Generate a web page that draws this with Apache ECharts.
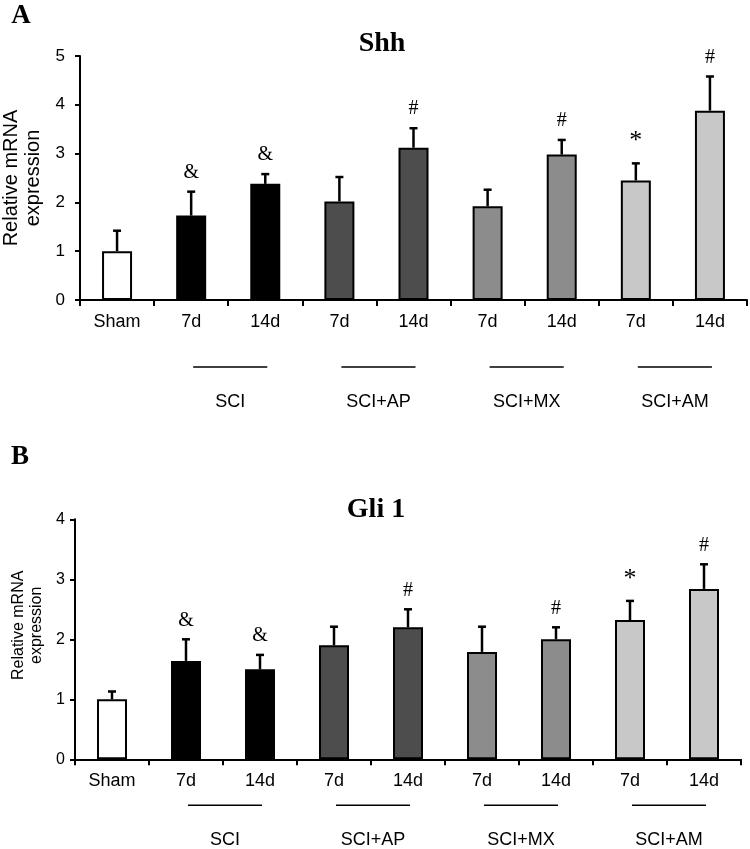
<!DOCTYPE html>
<html>
<head>
<meta charset="utf-8">
<script src="https://cdn.jsdelivr.net/npm/echarts@6/dist/echarts.min.js"></script>
<style>
  html, body { margin: 0; padding: 0; background: #fff; }
  #main { width: 750px; height: 849px; }
</style>
</head>
<body>
<div id="main"></div>
<script>
var categories = ['Sham', '7d', '14d', '7d', '14d', '7d', '14d', '7d', '14d'];
var barColors = ['#ffffff', '#000000', '#000000', '#4d4d4d', '#4d4d4d', '#8c8c8c', '#8c8c8c', '#c8c8c8', '#c8c8c8'];
var groupNames = ['SCI', 'SCI+AP', 'SCI+MX', 'SCI+AM'];
var groupStart = [1, 3, 5, 7];

// panel A - Shh
var shhMean = [1.0, 1.73, 2.38, 2.02, 3.12, 1.92, 2.98, 2.45, 3.88];
var shhErr = [0.42, 0.49, 0.20, 0.50, 0.40, 0.34, 0.30, 0.35, 0.70];
var shhMarks = ['', '&', '&', '', '#', '', '#', '*', '#'];

// panel B - Gli 1
var gliMean = [1.0, 1.64, 1.50, 1.90, 2.20, 1.79, 2.00, 2.32, 2.84];
var gliErr = [0.13, 0.36, 0.24, 0.31, 0.30, 0.42, 0.20, 0.32, 0.41];
var gliMarks = ['', '&', '&', '', '#', '', '#', '*', '#'];

var SANS = '"Liberation Sans", Arial, sans-serif';
var SERIF = '"Liberation Serif", "Times New Roman", serif';

var chart = echarts.init(document.getElementById('main'));

function xAxisFor(idx) {
  return {
    type: 'category', gridIndex: idx, data: categories,
    axisLine: { lineStyle: { color: '#000', width: 2 } },
    axisTick: { show: true, interval: 0, length: 6, lineStyle: { color: '#000', width: 2 } },
    axisLabel: { interval: 0, color: '#000', fontFamily: SANS, fontSize: 18, margin: 13 }
  };
}

function yAxisFor(idx, max, nameSize, nameGap, namePad, labelSize, labelMargin) {
  return {
    type: 'value', gridIndex: idx, min: 0, max: max, interval: 1,
    name: 'Relative mRNA\nexpression', nameLocation: 'middle', nameGap: nameGap,
    nameTextStyle: { color: '#000', fontFamily: SANS, fontSize: nameSize, lineHeight: nameSize + 2, padding: namePad },
    splitLine: { show: false },
    axisLine: { show: true, lineStyle: { color: '#000', width: 2 } },
    axisTick: { show: true, length: 5, lineStyle: { color: '#000', width: 2 } },
    axisLabel: { color: '#000', fontFamily: SANS, fontSize: labelSize, margin: labelMargin }
  };
}

function barSeries(idx, mean) {
  return {
    type: 'bar', xAxisIndex: idx, yAxisIndex: idx, barWidth: 30,
    data: mean.map(function (v, i) {
      return { value: v, itemStyle: { color: barColors[i] } };
    }),
    itemStyle: { borderColor: '#000', borderWidth: 2 },
    silent: true
  };
}

function errSeries(idx, mean, err, marks) {
  return {
    type: 'custom', xAxisIndex: idx, yAxisIndex: idx, z: 5, silent: true,
    data: mean.map(function (v, i) { return [i, v, v + err[i]]; }),
    encode: { x: 0, y: [1, 2] },
    renderItem: function (params, api) {
      var i = api.value(0);
      var base = api.coord([i, api.value(1)]);
      var top = api.coord([i, api.value(2)]);
      var star = marks[i] === '*';
      return {
        type: 'group',
        children: [
          { type: 'line', shape: { x1: base[0], y1: base[1], x2: top[0], y2: top[1] },
            style: { stroke: '#000', lineWidth: 2.5 } },
          { type: 'line', shape: { x1: top[0] - 4, y1: top[1], x2: top[0] + 4, y2: top[1] },
            style: { stroke: '#000', lineWidth: 2.5 } },
          { type: 'text', x: top[0], y: top[1] - 9,
            style: { text: marks[i], fill: '#000', font: (star ? '26px ' : '20px ') + SERIF,
                     align: 'center', verticalAlign: 'bottom' } }
        ]
      };
    }
  };
}

function groupSeries(idx, lineOff, labelOff) {
  return {
    type: 'custom', xAxisIndex: idx, yAxisIndex: idx, silent: true,
    data: groupStart.map(function (s, k) { return [s, 0, k]; }),
    encode: { x: 0, y: 1 },
    renderItem: function (params, api) {
      var s = api.value(0);
      var p0 = api.coord([s, 0]);
      var p1 = api.coord([s + 1, 0]);
      var cx = (p0[0] + p1[0]) / 2 + 2;
      return {
        type: 'group',
        children: [
          { type: 'line', shape: { x1: p0[0] + 2, y1: p0[1] + lineOff, x2: p1[0] + 2, y2: p0[1] + lineOff },
            style: { stroke: '#000', lineWidth: 1.5 } },
          { type: 'text', x: cx, y: p0[1] + labelOff,
            style: { text: groupNames[api.value(2)], fill: '#000', font: '18px ' + SANS, align: 'center', verticalAlign: 'middle' } }
        ]
      };
    }
  };
}

chart.setOption({
  backgroundColor: '#fff',
  animation: false,
  grid: [
    { left: 80, right: 3, top: 56, height: 244, containLabel: false, outerBoundsMode: 'none' },
    { left: 75, right: 9, top: 519.3, height: 240, containLabel: false, outerBoundsMode: 'none' }
  ],
  xAxis: [xAxisFor(0), xAxisFor(1)],
  yAxis: [
    yAxisFor(0, 5, 20, 16, [0, 0, 0, 0], 17, 15),
    yAxisFor(1, 4, 16, 20, [0, 0, 0, 28], 16, 10)
  ],
  series: [
    barSeries(0, shhMean), errSeries(0, shhMean, shhErr, shhMarks), groupSeries(0, 67, 102),
    barSeries(1, gliMean), errSeries(1, gliMean, gliErr, gliMarks), groupSeries(1, 46, 81)
  ],
  graphic: [
    { type: 'text', x: 21, y: 16, style: { text: 'A', font: 'bold 27px ' + SERIF, fill: '#000', align: 'center', verticalAlign: 'middle' } },
    { type: 'text', x: 382, y: 44, style: { text: 'Shh', font: 'bold 28px ' + SERIF, fill: '#000', align: 'center', verticalAlign: 'middle' } },
    { type: 'text', x: 20, y: 457, style: { text: 'B', font: 'bold 27px ' + SERIF, fill: '#000', align: 'center', verticalAlign: 'middle' } },
    { type: 'text', x: 376, y: 510, style: { text: 'Gli 1', font: 'bold 28px ' + SERIF, fill: '#000', align: 'center', verticalAlign: 'middle' } }
  ]
});
</script>
</body>
</html>
